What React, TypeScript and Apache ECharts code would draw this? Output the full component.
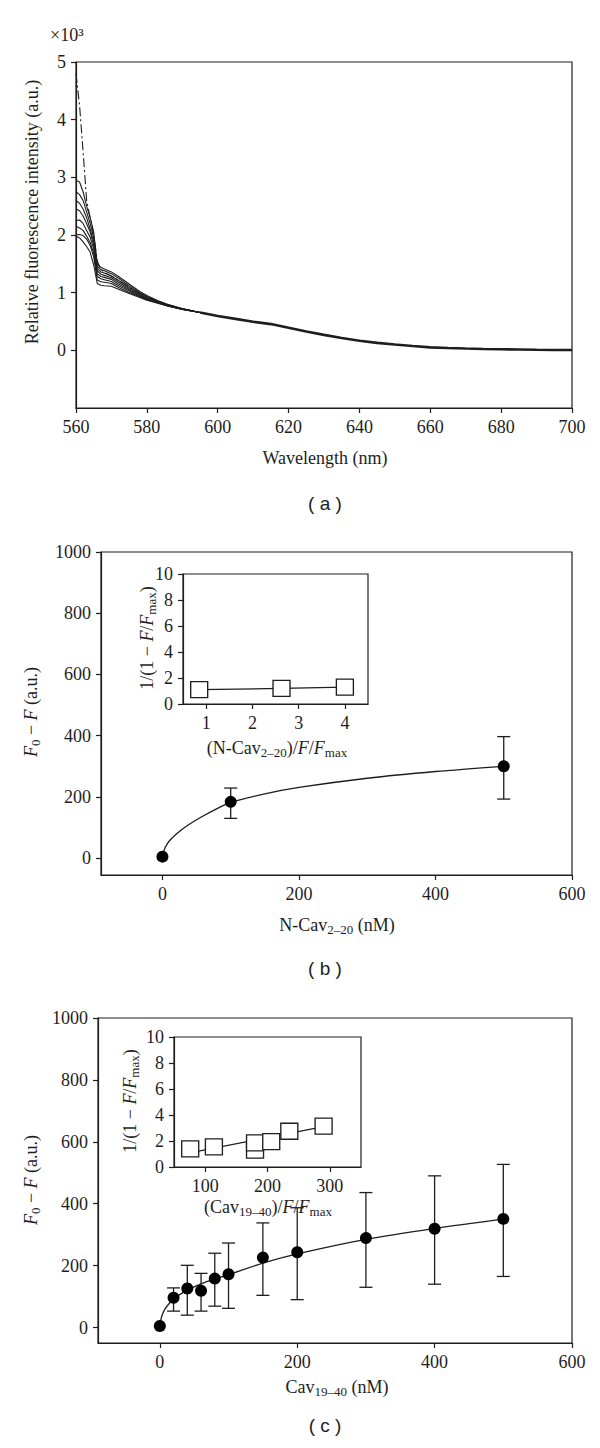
import React, { useEffect, useRef } from "react";
import * as echarts from "echarts";

const SERIF = "Liberation Serif";
const SANS = "Liberation Sans";
const INK = "#1e1e1e";

// ---------- panel (a): fluorescence spectra ----------
const wlHead = [560, 561, 562, 563, 564, 565, 566, 567, 568, 570, 572, 575, 578, 580, 583, 586, 590, 595];
const spec1 = [4800, 4250, 3450, 2600, 2300, 2000, 1550, 1400, 1350, 1290, 1210, 1100, 990, 930, 855, 790, 720, 655];
const spec2 = [2950, 2920, 2750, 2500, 2300, 2050, 1500, 1440, 1410, 1360, 1280, 1150, 1020, 950, 865, 795, 725, 655];
const spec3 = [2750, 2700, 2600, 2400, 2200, 1950, 1460, 1400, 1380, 1330, 1250, 1120, 1000, 935, 855, 788, 722, 655];
const spec4 = [2600, 2550, 2450, 2300, 2100, 1880, 1420, 1360, 1340, 1290, 1210, 1090, 980, 920, 848, 783, 720, 655];
const spec5 = [2450, 2420, 2330, 2200, 2050, 1820, 1380, 1320, 1300, 1260, 1180, 1070, 965, 908, 842, 779, 717, 655];
const spec6 = [2250, 2260, 2200, 2080, 1960, 1760, 1330, 1280, 1265, 1230, 1150, 1050, 950, 898, 836, 775, 714, 655];
const spec7 = [2150, 2120, 2080, 1980, 1870, 1680, 1280, 1240, 1225, 1195, 1120, 1030, 940, 888, 830, 771, 712, 655];
const spec8 = [2000, 2010, 1990, 1930, 1820, 1620, 1220, 1190, 1180, 1160, 1090, 1005, 928, 878, 824, 768, 710, 655];
const spec9 = [1980, 1950, 1880, 1800, 1700, 1480, 1160, 1130, 1120, 1110, 1060, 985, 915, 868, 818, 765, 708, 655];
const wlTail = [595, 600, 605, 610, 615, 620, 625, 630, 635, 640, 645, 650, 655, 660, 665, 670, 675, 680, 685, 690, 695, 700];
const tailIntensity = [655, 595, 545, 495, 455, 390, 325, 268, 213, 165, 130, 100, 75, 52, 40, 31, 24, 18, 14, 10, 7, 5];
const wlTicks = [560, 580, 600, 620, 640, 660, 680, 700];
const intensityTicks = [0, 1000, 2000, 3000, 4000, 5000];

// ---------- panel (b): N-Cav2-20 ----------
const bConc = [0, 100, 500];
const bSignal = [5, 184, 300];
const bErrLow = [5, 130, 193];
const bErrHigh = [5, 229, 397];
const bFitX = [0, 1, 4, 10, 20, 35, 55, 80, 100, 150, 200, 300, 400, 500];
const bFitY = [5, 16, 35, 56, 78, 104, 132, 162, 182, 210, 231, 261, 283, 300];
const bInsetX = [0.85, 2.63, 4.0];
const bInsetY = [1.1, 1.2, 1.3];

// ---------- panel (c): Cav19-40 ----------
const cConc = [0, 20, 40, 60, 80, 100, 150, 200, 300, 400, 500];
const cSignal = [5, 96, 126, 119, 158, 172, 226, 243, 289, 319, 351];
const cErrLow = [5, 53, 40, 53, 69, 62, 104, 90, 130, 140, 165];
const cErrHigh = [5, 128, 201, 175, 240, 273, 338, 387, 436, 490, 527];
const cFitX = [0, 1, 3, 7, 13, 20, 30, 40, 60, 80, 100, 150, 200, 300, 400, 500];
const cFitY = [5, 20, 38, 58, 76, 92, 108, 121, 141, 157, 171, 208, 238, 285, 320, 350];
const cInsetX = [76, 114, 180, 180, 206, 235, 290];
const cInsetY = [1.4, 1.55, 1.3, 1.85, 1.95, 2.75, 3.15];
const cInsetFitX = [77, 300];
const cInsetFitY = [1.1, 3.2];

const concTicks = [0, 200, 400, 600];
const signalTicks = [0, 200, 400, 600, 800, 1000];
const ratioTicks = [0, 2, 4, 6, 8, 10];
const bInsetTicks = [1, 2, 3, 4];
const cInsetTicks = [100, 200, 300];

const zip = (xs: number[], ys: number[]) => xs.map((x, i) => [x, ys[i]]);

function axis(gridIndex: number, min: number, max: number, ticks: number[], fmt?: (v: number) => string) {
  return {
    type: "value",
    gridIndex,
    min,
    max,
    axisLine: { show: true, onZero: false, lineStyle: { color: INK, width: 1.2 } },
    axisTick: { show: true, inside: false, length: 5, customValues: ticks, lineStyle: { color: INK, width: 1.2 } },
    axisLabel: {
      show: true,
      customValues: ticks,
      color: INK,
      fontFamily: SERIF,
      fontSize: 18,
      margin: 10,
      formatter: fmt || ((v: number) => String(v)),
    },
    splitLine: { show: false },
  };
}

function grid(left: number, top: number, width: number, height: number) {
  return {
    left, top, width, height,
    show: true,
    borderColor: INK,
    borderWidth: 1.2,
    backgroundColor: "#fff",
    containLabel: false,
    outerBoundsMode: "none",
  };
}

const RICH = {
  i: { fontStyle: "italic", fontFamily: SERIF, fontSize: 18, lineHeight: 22, fill: INK, color: INK },
  s: { fontFamily: SERIF, fontSize: 13, lineHeight: 10, verticalAlign: "bottom", fill: INK, color: INK },
};

function txt(x: number, y: number, text: string, opts: any = {}) {
  return {
    type: "text",
    x,
    y,
    rotation: opts.rotation || 0,
    silent: true,
    z: 100,
    style: {
      text,
      fill: INK,
      fontFamily: opts.fontFamily || SERIF,
      fontSize: opts.fontSize || 18,
      align: opts.align || "center",
      textAlign: opts.align || "center",
      verticalAlign: "middle",
      textVerticalAlign: "middle",
      lineHeight: 22,
      rich: RICH,
    },
  };
}

function errorSeries(xIdx: number, conc: number[], lo: number[], hi: number[]) {
  const data = conc.map((x, i) => [x, lo[i], hi[i]]).filter((d) => d[1] !== d[2]);
  return {
    type: "custom",
    xAxisIndex: xIdx,
    yAxisIndex: xIdx,
    z: 3,
    silent: true,
    encode: { x: 0, y: [1, 2] },
    data,
    renderItem: (_p: any, api: any) => {
      const x = api.value(0);
      const a = api.coord([x, api.value(2)]);
      const b = api.coord([x, api.value(1)]);
      const w = 6.5;
      const st = { stroke: INK, lineWidth: 1.3 };
      return {
        type: "group",
        children: [
          { type: "line", shape: { x1: a[0], y1: a[1], x2: b[0], y2: b[1] }, style: st },
          { type: "line", shape: { x1: a[0] - w, y1: a[1], x2: a[0] + w, y2: a[1] }, style: st },
          { type: "line", shape: { x1: b[0] - w, y1: b[1], x2: b[0] + w, y2: b[1] }, style: st },
        ],
      };
    },
  };
}

const specs = [spec1, spec2, spec3, spec4, spec5, spec6, spec7, spec8, spec9];

export default function App() {
  const ref = useRef<HTMLDivElement>(null);
  useEffect(() => {
    document.body.style.margin = "0";
    document.body.style.background = "#fff";
    const chart = echarts.init(ref.current!, null, { renderer: "svg" });
    const headSeries = specs.map((s, k) => ({
      type: "line",
      xAxisIndex: 0,
      yAxisIndex: 0,
      data: zip(wlHead, s),
      symbol: "none",
      silent: true,
      z: 2,
      lineStyle: { color: INK, width: 1.1, type: k === 0 ? [9, 3, 2, 3] : "solid" },
    }));
    const option: any = {
      animation: false,
      backgroundColor: "#fff",
      textStyle: { fontFamily: SERIF },
      grid: [
        grid(76, 62, 496, 346),
        grid(101, 552, 471, 323),
        grid(183, 574, 185, 130),
        grid(98, 1018, 474, 325),
        grid(174, 1037, 187, 130),
      ],
      xAxis: [
        axis(0, 560, 700, wlTicks),
        axis(1, -90, 600, concTicks),
        axis(2, 0.5, 4.5, bInsetTicks),
        axis(3, -90, 600, concTicks),
        axis(4, 50, 350, cInsetTicks),
      ],
      yAxis: [
        axis(0, -1000, 5000, intensityTicks, (v: number) => String(v / 1000)),
        axis(1, -55, 1000, signalTicks),
        axis(2, 0, 10, ratioTicks),
        axis(3, -50, 1000, signalTicks),
        axis(4, 0, 10, ratioTicks),
      ],
      series: [
        ...headSeries,
        {
          type: "line",
          xAxisIndex: 0,
          yAxisIndex: 0,
          data: zip(wlTail, tailIntensity),
          symbol: "none",
          silent: true,
          lineStyle: { color: INK, width: 2.6 },
        },
        // panel b
        {
          type: "line",
          xAxisIndex: 1,
          yAxisIndex: 1,
          data: zip(bFitX, bFitY),
          smooth: 0.3,
          symbol: "none",
          silent: true,
          z: 2,
          lineStyle: { color: INK, width: 1.3 },
        },
        errorSeries(1, bConc, bErrLow, bErrHigh),
        {
          type: "scatter",
          xAxisIndex: 1,
          yAxisIndex: 1,
          data: zip(bConc, bSignal),
          symbol: "circle",
          symbolSize: 12,
          silent: true,
          z: 4,
          itemStyle: { color: "#000", opacity: 1 },
        },
        {
          type: "line",
          xAxisIndex: 2,
          yAxisIndex: 2,
          data: zip(bInsetX, bInsetY),
          symbol: "rect",
          symbolSize: [17, 16],
          showAllSymbol: true,
          silent: true,
          z: 5,
          lineStyle: { color: INK, width: 1.2 },
          itemStyle: { color: "#fff", borderColor: INK, borderWidth: 1.3, opacity: 1 },
        },
        // panel c
        {
          type: "line",
          xAxisIndex: 3,
          yAxisIndex: 3,
          data: zip(cFitX, cFitY),
          smooth: 0.3,
          symbol: "none",
          silent: true,
          z: 2,
          lineStyle: { color: INK, width: 1.3 },
        },
        errorSeries(3, cConc, cErrLow, cErrHigh),
        {
          type: "scatter",
          xAxisIndex: 3,
          yAxisIndex: 3,
          data: zip(cConc, cSignal),
          symbol: "circle",
          symbolSize: 12,
          silent: true,
          z: 4,
          itemStyle: { color: "#000", opacity: 1 },
        },
        {
          type: "line",
          xAxisIndex: 4,
          yAxisIndex: 4,
          data: zip(cInsetFitX, cInsetFitY),
          symbol: "none",
          silent: true,
          z: 5,
          lineStyle: { color: INK, width: 1.2 },
        },
        {
          type: "scatter",
          xAxisIndex: 4,
          yAxisIndex: 4,
          data: zip(cInsetX, cInsetY),
          symbol: "rect",
          symbolSize: [17, 16],
          silent: true,
          z: 6,
          itemStyle: { color: "#fff", borderColor: INK, borderWidth: 1.3, opacity: 1 },
        },
      ],
      graphic: [
        txt(50, 35, "×10³", { align: "left" }),
        txt(32, 212, "Relative fluorescence intensity (a.u.)", { rotation: Math.PI / 2 }),
        txt(325, 458, "Wavelength (nm)"),
        txt(325, 503, "( a )", { fontFamily: SANS, fontSize: 19 }),
        txt(31, 712, "{i|F}{s|0} − {i|F} (a.u.)", { rotation: Math.PI / 2 }),
        txt(147, 638, "1/(1 − {i|F}/{i|F}{s|max})", { rotation: Math.PI / 2 }),
        txt(277, 748, "(N-Cav{s|2–20})/{i|F}/{i|F}{s|max}"),
        txt(337, 925, "N-Cav{s|2–20} (nM)"),
        txt(325, 968, "( b )", { fontFamily: SANS, fontSize: 19 }),
        txt(31, 1180, "{i|F}{s|0} − {i|F} (a.u.)", { rotation: Math.PI / 2 }),
        txt(130, 1101, "1/(1 − {i|F}/{i|F}{s|max})", { rotation: Math.PI / 2 }),
        txt(268, 1207, "(Cav{s|19–40})/{i|F}/{i|F}{s|max}"),
        txt(337, 1387, "Cav{s|19–40} (nM)"),
        txt(325, 1425, "( c )", { fontFamily: SANS, fontSize: 19 }),
      ],
    };
    chart.setOption(option);
    return () => chart.dispose();
  }, []);
  return <div ref={ref} style={{ width: 600, height: 1448 }} />;
}
